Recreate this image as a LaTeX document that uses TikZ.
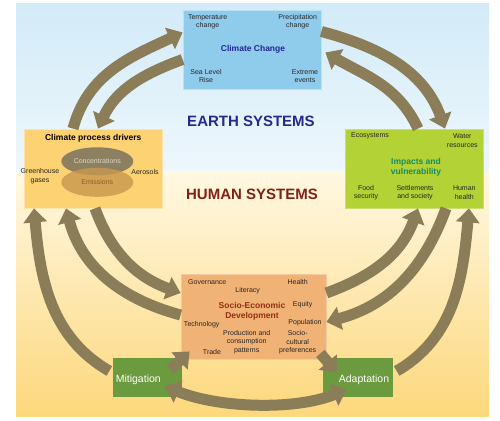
\documentclass[tikz,border=0pt]{standalone}
\usepackage{fontspec}
\setmainfont{Liberation Sans}
\usetikzlibrary{arrows.meta,shapes.geometric}

\definecolor{skytop}{RGB}{210,235,248}
\definecolor{skylow}{RGB}{238,247,252}
\definecolor{sandtop}{RGB}{255,248,226}
\definecolor{sandlow}{RGB}{253,216,124}
\definecolor{flowcol}{RGB}{138,125,88}
\definecolor{ccfill}{RGB}{143,204,236}
\definecolor{cpdfill}{RGB}{253,210,115}
\definecolor{ivfill}{RGB}{178,210,53}
\definecolor{sedfill}{RGB}{241,178,118}
\definecolor{actfill}{RGB}{108,154,63}
\definecolor{concfill}{RGB}{140,128,96}
\definecolor{emisfill}{RGB}{200,152,78}
\definecolor{conctext}{RGB}{222,216,200}
\definecolor{emistext}{RGB}{150,88,40}
\definecolor{earthcol}{RGB}{40,40,140}
\definecolor{humancol}{RGB}{130,32,22}
\definecolor{ivtext}{RGB}{22,140,100}

\begin{document}
\begin{tikzpicture}[
    x = 1pt, y = 1pt,
    font = \fontsize{7}{8.5}\selectfont,
    >={Triangle[width = 23pt, length = 14pt]},
    panel/.style = {
      rectangle,
      inner sep = 0,
      line width = .8pt,
      minimum width = 138pt,
      minimum height = 79pt,
    },
    action/.style = {
      rectangle,
      inner sep = 0,
      fill = actfill,
      minimum width = 69pt,
      minimum height = 39pt,
    },
    tag/.style = {
      align = center,
      inner sep = 0,
      text = black!85,
    },
    title/.style = {
      align = center,
      inner sep = 0,
      font = \fontsize{8.5}{10}\selectfont\bfseries,
    },
    system/.style = {
      inner sep = 0,
      font = \fontsize{15}{18}\selectfont\bfseries,
    },
    flow/.style = {
      draw = flowcol,
      line width = 11pt,
      ->,
    },
  ]
  \useasboundingbox (0,0) rectangle (500,420);
  \shade[top color = skytop, bottom color = skylow] (16,248) rectangle (489,416);
  \shade[top color = sandtop, bottom color = sandlow] (16,4) rectangle (489,248);

  \node[panel, fill = ccfill, draw = ccfill!60!white] (cc) at (252,370.5) {};
  \node[panel, fill = cpdfill, draw = cpdfill!60!white] (cpd) at (93,251.5) {};
  \node[panel, fill = ivfill, draw = ivfill!70!white] (iv) at (414,251.5) {};
  \node[panel, fill = sedfill, draw = sedfill!70!white,
        minimum width = 145pt, minimum height = 85pt] (sed) at (253.5,103.5) {};
  \node[action] (mit) at (147.5,42.5) {};
  \node[action, minimum width = 70pt] (ada) at (358,42.5) {};

  \node[tag] (temp) at (207.7,398.3) {Temperature\\change};
  \node[tag] (prec) at (297.7,398.3) {Precipitation\\change};
  \node[title, text = earthcol!90!blue] (cctitle) at (253,371) {Climate Change};
  \node[tag] (slr) at (206,344) {Sea Level\\Rise};
  \node[tag] (extr) at (305,344) {Extreme\\events};

  \node[title] (cpdtitle) at (93.3,281.7) {Climate process drivers};
  \node[ellipse, fill = concfill, minimum width = 72pt, minimum height = 28pt,
        inner sep = 0] (conc) at (97.3,258.7) {};
  \node[ellipse, fill = emisfill, fill opacity = .8, minimum width = 72pt,
        minimum height = 29pt, inner sep = 0] (emis) at (97.3,237.7) {};
  \node[tag, text = conctext] (conctxt) at (conc) {Concentrations};
  \node[tag, text = emistext] (emistxt) at (emis) {Emissions};
  \node[tag] (ghg) at (40,244) {Greenhouse\\gases};
  \node[tag] (aer) at (145,247.7) {Aerosols};

  \node[tag] (eco) at (370,284) {Ecosystems};
  \node[tag] (water) at (462.3,279.3) {Water\\resources};
  \node[title, text = ivtext] (ivtitle) at (416,252.3) {Impacts and\\vulnerability};
  \node[tag] (food) at (366,227.3) {Food\\security};
  \node[tag] (settl) at (415,227.3) {Settlements\\and society};
  \node[tag] (hlth) at (464.3,227.3) {Human\\health};

  \node[tag] (gov) at (207.3,137.7) {Governance};
  \node[tag] (lit) at (247.7,129) {Literacy};
  \node[tag] (health) at (297.7,137.7) {Health};
  \node[title, text = humancol!85!orange] (sedtitle) at (252,108.3) {Socio-Economic\\Development};
  \node[tag] (equ) at (302.7,115) {Equity};
  \node[tag] (tech) at (201.7,95.7) {Technology};
  \node[tag] (pop) at (305,97.3) {Population};
  \node[tag] (prod) at (246.7,78.3) {Production and\\consumption\\patterns};
  \node[tag] (socc) at (297.7,77.7) {Socio-\\cultural\\preferences};
  \node[tag] (trade) at (212,68.3) {Trade};

  \node[system, text = earthcol] (earth) at (251,299) {EARTH SYSTEMS};
  \node[system, text = humancol] (human) at (252,226) {HUMAN SYSTEMS};

  \draw[flow] ([xshift = -20pt]cpd.north) to[out = 75, in = 205] ([yshift = 17pt]cc.west);
  \draw[flow] ([yshift = -10pt]cc.west) to[out = 200, in = 65] ([xshift = 5pt]cpd.north);
  \draw[flow] ([yshift = 18pt]cc.east) to[out = -15, in = 110] ([xshift = 31pt]iv.north);
  \draw[flow] ([xshift = 4pt]iv.north) to[out = 115, in = -30] ([xshift = 4pt, yshift = -3pt]cc.east);

  \draw[flow] ([xshift = 2pt]cpd.south) to[out = -70, in = 160] ([yshift = 23.5pt]sed.west);
  \draw[flow] ([yshift = 1.5pt]sed.west) to[out = 165, in = -75] ([xshift = -27pt]cpd.south);
  \draw[flow, shorten <= 4pt] ([yshift = 4.5pt]mit.west) to[out = 150, in = -85] ([xshift = -59pt]cpd.south);

  \draw[flow] ([yshift = 23.5pt]sed.east) to[out = 20, in = -110] ([xshift = 4pt]iv.south);
  \draw[flow] ([xshift = 32pt]iv.south) to[out = -110, in = 15] ([yshift = -5.5pt]sed.east);
  \draw[flow, shorten <= 4pt] ([yshift = 4.5pt]ada.east) to[out = 30, in = -95] ([xshift = 55pt]iv.south);

  \draw[flow] ([xshift = -12pt, yshift = -12pt]mit.north east) -- ([xshift = 9pt, yshift = 8pt]sed.south west);
  \draw[flow] ([xshift = -6pt, yshift = 6pt]sed.south east) -- ([xshift = 14pt, yshift = -15pt]ada.north west);
  \draw[flow, <->] ([xshift = -17pt, yshift = -9pt]mit.east) to[out = -22, in = -158, looseness = .8]
    ([xshift = 24pt, yshift = -12pt]ada.west);

  \node[inner sep = 0, text = white, font = \fontsize{10.5}{12}\selectfont] (mitlbl) at (138.3,40.7) {Mitigation};
  \node[inner sep = 0, text = white, font = \fontsize{10.5}{12}\selectfont] (adalbl) at (364,40.7) {Adaptation};
\end{tikzpicture}
\end{document}
